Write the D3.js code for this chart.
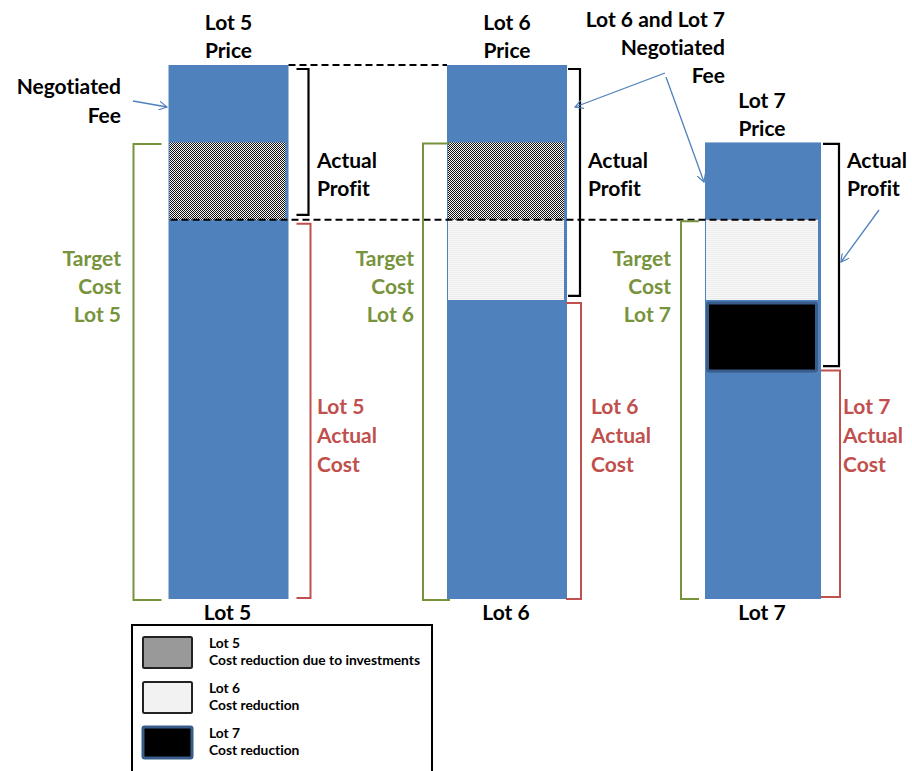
<!DOCTYPE html>
<html>
<head>
<meta charset="utf-8">
<script src="https://cdn.jsdelivr.net/npm/d3@7"></script>
<style>
  html, body { margin: 0; padding: 0; background: #fff; }
  svg { display: block; }
  text { font-family: Lato, "Open Sans", sans-serif; font-weight: bold;
         font-variant-ligatures: none; font-feature-settings: "liga" 0; }
</style>
</head>
<body>
<svg id="chart" width="912" height="771"></svg>
<script>
// ---- data ----
const lots = ["Lot 5", "Lot 6", "Lot 7"];
const price = [100, 100, 85.5];          // selling price per lot
const targetCost = [85.5, 85.5, 71];     // target cost per lot
const actualCost = [71, 56, 42.5];       // actual cost per lot
// cost-reduction segments stacked inside the bars: [lot index, from, to, kind]
const reductionLot = [0, 1, 1, 2, 2];
const reductionFrom = [85.5, 85.5, 71, 71, 56];
const reductionTo = [71, 71, 56, 56, 42.5];
const reductionKind = ["lot5", "lot5", "lot6", "lot6", "lot7"];
const legendLabels = [
  ["Lot 5", "Cost reduction due to investments"],
  ["Lot 6", "Cost reduction"],
  ["Lot 7", "Cost reduction"]
];

const BLUE = "#4F81BD", GREEN = "#77933C", RED = "#C0504D";

const svg = d3.select("#chart");
const y = d3.scaleLinear().domain([0, 100]).range([599, 65]);
const x = d3.scaleOrdinal().domain(lots).range([228.5, 507, 763]);
const barWidths = d3.scaleOrdinal().domain(lots).range([120, 120, 116]);
const left = i => x(lots[i]) - barWidths(lots[i]) / 2;
const right = i => x(lots[i]) + barWidths(lots[i]) / 2;

// ---- patterns ----
const defs = svg.append("defs");
const chk = defs.append("pattern").attr("id", "chk").attr("patternUnits", "userSpaceOnUse")
  .attr("width", 2).attr("height", 2);
chk.append("rect").attr("width", 2).attr("height", 2).attr("fill", "#f4f4f4");
chk.append("rect").attr("width", 1).attr("height", 1).attr("fill", "#111");
chk.append("rect").attr("x", 1).attr("y", 1).attr("width", 1).attr("height", 1).attr("fill", "#111");
const lt = defs.append("pattern").attr("id", "lt").attr("patternUnits", "userSpaceOnUse")
  .attr("width", 3).attr("height", 2);
lt.append("rect").attr("width", 3).attr("height", 2).attr("fill", "#f8f8f8");
lt.append("rect").attr("width", 3).attr("height", 1).attr("fill", "#ececec");

defs.append("marker").attr("id", "arr").attr("viewBox", "0 0 10 10")
  .attr("refX", 9).attr("refY", 5).attr("markerWidth", 9).attr("markerHeight", 9)
  .attr("markerUnits", "userSpaceOnUse").attr("orient", "auto")
  .append("path").attr("d", "M0,0 L9,5 L0,10").attr("fill", "none")
  .attr("stroke", BLUE).attr("stroke-width", 1.3);

// ---- bars ----
svg.selectAll("rect.bar").data(lots).join("rect").attr("class", "bar")
  .attr("x", (d, i) => left(i)).attr("width", d => barWidths(d))
  .attr("y", (d, i) => y(price[i])).attr("height", (d, i) => y(0) - y(price[i]))
  .attr("fill", BLUE);

// ---- reduction segments ----
reductionLot.forEach((li, k) => {
  const kind = reductionKind[k];
  const w = barWidths(lots[li]);
  const y0 = y(reductionFrom[k]), y1 = y(reductionTo[k]);
  if (kind === "lot7") {
    svg.append("rect").attr("x", left(li) + 2.5).attr("y", y0 + 3)
      .attr("width", w - 7).attr("height", y1 - y0 - 4).attr("rx", 2)
      .attr("fill", "#000").attr("stroke", "#385D8A").attr("stroke-width", 3);
  } else {
    svg.append("rect").attr("x", left(li) + 1).attr("y", y0)
      .attr("width", w - 4).attr("height", y1 - y0)
      .attr("fill", kind === "lot5" ? "url(#chk)" : "url(#lt)");
  }
});

// ---- dashed reference lines ----
const dash = (x1, x2, yy) => svg.append("line").attr("x1", x1).attr("x2", x2)
  .attr("y1", yy).attr("y2", yy).attr("stroke", "#000").attr("stroke-width", 2)
  .attr("stroke-dasharray", "7,4");
dash(right(0), left(1), y(price[0]));
dash(left(0) + 2, right(2) - 3, y(actualCost[0]));

// ---- brackets ----
function bracket(xv, y0, y1, tickTo, color, w) {
  svg.append("path")
    .attr("d", `M${tickTo},${y0} H${xv} V${y1} H${tickTo}`)
    .attr("fill", "none").attr("stroke", color).attr("stroke-width", w || 2);
}
// actual profit (price → actual cost)
bracket(right(0) + 20, y(price[0]) + 4, y(actualCost[0]) - 5, right(0) + 8, "#000", 2.2);
bracket(right(1) + 13, y(price[1]) + 4, y(actualCost[1]) - 4, right(1) + 1, "#000", 2.2);
bracket(right(2) + 18, y(price[2]) + 1.5, y(actualCost[2]) - 6, right(2) + 2, "#000", 2.2);
// target cost
bracket(left(0) - 35, y(targetCost[0]) + 1.5, y(0) + 1, left(0) - 7, GREEN);
bracket(left(1) - 24, y(targetCost[1]) + 1, y(0) + 1, left(1) + 3, GREEN);
bracket(left(2) - 24, y(targetCost[2]) + 1.5, y(0), left(2) - 6, GREEN);
// actual cost
bracket(right(0) + 22, y(actualCost[0]) + 4, y(0) - 1, right(0) + 8, RED);
bracket(right(1) + 14, y(actualCost[1]) + 3, y(0), right(1) - 1, RED);
bracket(right(2) + 19, y(actualCost[2]) - 1.5, y(0) - 2, right(2), RED);

// ---- text ----
function label(lines, xx, y0, anchor, color, size, lh) {
  const t = svg.append("text").attr("x", xx).attr("y", y0)
    .attr("text-anchor", anchor).attr("fill", color || "#000")
    .attr("font-size", size || 21);
  lines.forEach((s, i) => t.append("tspan").attr("x", xx)
    .attr("dy", i === 0 ? 0 : (lh || 28)).text(s));
}
label([lots[0], "Price"], x(lots[0]), 30, "middle");
label([lots[1], "Price"], x(lots[1]), 30, "middle");
label([lots[2], "Price"], x(lots[2]) - 1, 108, "middle");
label(["Lot 6 and Lot 7", "Negotiated", "Fee"], 725, 27, "end");
label(["Negotiated", "Fee"], 121, 94, "end", "#000", 21, 29);
label(["Actual", "Profit"], 317, 168, "start");
label(["Actual", "Profit"], 588, 168, "start");
label(["Actual", "Profit"], 847, 168, "start");
label(["Target", "Cost", lots[0]], 121, 266, "end", GREEN);
label(["Target", "Cost", lots[1]], 414, 266, "end", GREEN);
label(["Target", "Cost", lots[2]], 671, 266, "end", GREEN);
label([lots[0], "Actual", "Cost"], 317, 414, "start", RED, 21, 29);
label([lots[1], "Actual", "Cost"], 591, 414, "start", RED, 21, 29);
label([lots[2], "Actual", "Cost"], 843, 414, "start", RED, 21, 29);
lots.forEach((d, i) => label([d], x(d) - 1, 620, "middle"));

// ---- arrows ----
const arrow = (x1, y1, x2, y2) => svg.append("line")
  .attr("x1", x1).attr("y1", y1).attr("x2", x2).attr("y2", y2)
  .attr("stroke", BLUE).attr("stroke-width", 1.3).attr("marker-end", "url(#arr)");
arrow(133, 101, 167, 107);
arrow(665, 73, 575, 107);
arrow(666, 77, 704, 182);
arrow(879, 210, 841, 262);

// ---- legend ----
const lg = svg.append("g");
lg.append("rect").attr("x", 132).attr("y", 625).attr("width", 300).attr("height", 160)
  .attr("fill", "#fff").attr("stroke", "#000").attr("stroke-width", 2);
const swFill = ["#999999", "#f2f2f2", "#000000"];
const swStroke = ["#222", "#222", "#385D8A"];
legendLabels.forEach((lab, i) => {
  const top = 637 + i * 45;
  lg.append("rect").attr("x", 143).attr("y", top).attr("width", 49).attr("height", 31)
    .attr("rx", 1.5).attr("fill", swFill[i]).attr("stroke", swStroke[i])
    .attr("stroke-width", i === 2 ? 3 : 2);
  label(lab, 209, top + 11, "start", "#000", 13.8, 17);
});
</script>
</body>
</html>
